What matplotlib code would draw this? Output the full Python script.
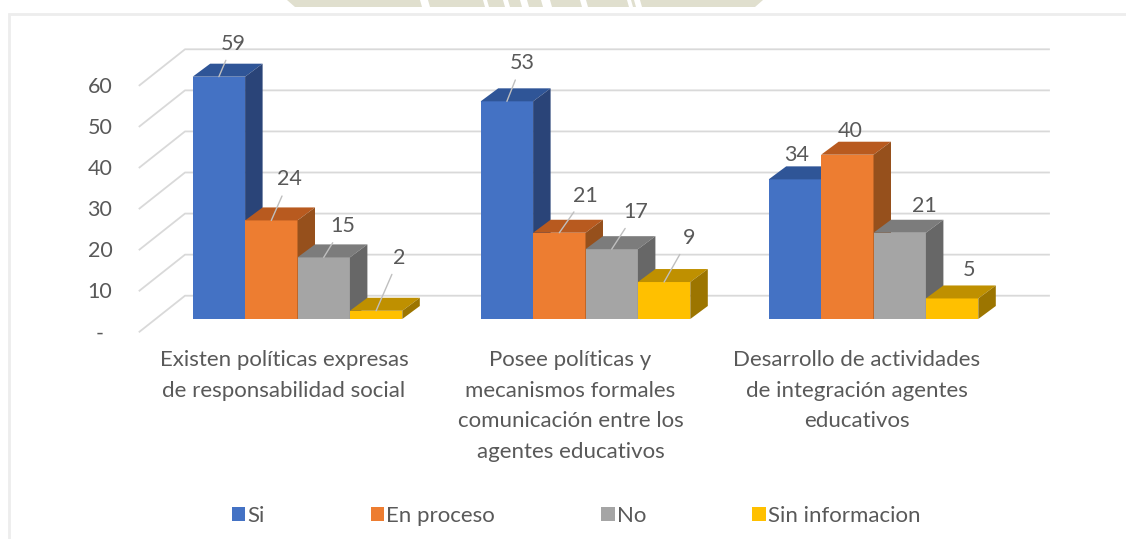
import matplotlib
matplotlib.use('Agg')
import matplotlib.pyplot as plt
from matplotlib.transforms import Affine2D

categories = ['Existen políticas expresas\nde responsabilidad social',
              'Posee políticas y\nmecanismos formales\ncomunicación entre los\nagentes educativos',
              'Desarrollo de actividades\nde integración agentes\neducativos']
series_names = ['Si', 'En proceso', 'No', 'Sin informacion']
si = [59, 53, 34]
en_proceso = [24, 21, 40]
no = [15, 17, 21]
sin_info = [2, 9, 5]
y_ticks = [0, 10, 20, 30, 40, 50, 60]
y_tick_labels = ['-', '10', '20', '30', '40', '50', '60']

front_colors = ['#4472C4', '#ED7D31', '#A5A5A5', '#FFC000']
top_colors = ['#2F5597', '#B85A1F', '#7C7C7C', '#BF9000']
side_colors = ['#2A4478', '#96501C', '#676767', '#9C7500']
text_color = '#595959'

W, H = 1126, 539
GROUP_PX = 288.0
UNIT_PX = 4.107
BAR_W = 52.4 / GROUP_PX
DEPTH_X = 17.5 / GROUP_PX
DEPTH_Y = 13 / UNIT_PX

plt.rcParams['font.family'] = ['Lato', 'DejaVu Sans']

fig = plt.figure(figsize=(W / 100, H / 100), dpi=100)
ax = fig.add_axes([0, 0, 1, 1])
ax.set_xlim(-297.5 / GROUP_PX, (W - 297.5) / GROUP_PX)
ax.set_ylim((319 - H) / UNIT_PX, 319 / UNIT_PX)
ax.axis('off')

# pixel coordinates with the origin at the top left, for text and decoration
px = Affine2D().scale(1, -1).translate(0, H)

# page scraps: watermark at the top edge and the chart border
ax.fill([287, 763, 755, 295], [0, 0, 7, 7], color='#E0DFCE', lw=0, transform=px)
for x0, x1 in [(420, 428), (483, 487), (503, 508), (520, 527), (541, 550), (580, 586), (627, 631), (634, 640)]:
    ax.fill([x0, x1, x1 + 2, x0 + 2], [0, 0, 7, 7], color='white', lw=0, transform=px)
ax.plot([9, 9, W], [H, 13.5, 13.5], color='#EDEDED', lw=2, transform=px, solid_joinstyle='miter')

# back wall and side wall gridlines
wall_front = -3.1
wall_back = 5.67
grid_left = 139.5
grid_mid = 185
grid_right = 1049
for t in y_ticks:
    gx = [(grid_left - 297.5) / GROUP_PX, (grid_mid - 297.5) / GROUP_PX, (grid_right - 297.5) / GROUP_PX]
    gy = [t + wall_front, t + wall_back, t + wall_back]
    ax.plot(gx, gy, color='#D9D9D9', lw=1.3, zorder=1)

series = [si, en_proceso, no, sin_info]
# label offsets from the top of each bar front, in pixels
label_offsets = [
    [(14, 33), (18, 41), (19, 31), (23, 53)],
    [(15, 38), (26, 37), (24, 37), (25, 44)],
    [(2, 24), (2.5, 24), (25, 27), (17, 28)],
]
show_leader = [
    [True, True, True, True],
    [True, True, True, True],
    [False, False, False, False],
]

handles = []
for s, values in enumerate(series):
    offs = [(s - 2 + 0.5) * BAR_W + i for i in range(3)]
    bars = ax.bar(offs, values, width=BAR_W, color=front_colors[s], lw=0, zorder=3 + s * 2)
    handles.append(bars)
    for xc, v in zip(offs, values):
        x0, x1 = xc - BAR_W / 2, xc + BAR_W / 2
        ax.fill([x0, x1, x1 + DEPTH_X, x0 + DEPTH_X], [v, v, v + DEPTH_Y, v + DEPTH_Y],
                color=top_colors[s], lw=0, zorder=3 + s * 2)
        ax.fill([x1, x1 + DEPTH_X, x1 + DEPTH_X, x1], [0, DEPTH_Y, v + DEPTH_Y, v],
                color=side_colors[s], lw=0, zorder=3 + s * 2)

# data labels go on last so the leaders sit over the bars
for s, values in enumerate(series):
    for i, v in enumerate(values):
        xc = (s - 2 + 0.5) * BAR_W + i
        dx, dy = label_offsets[i][s]
        if show_leader[i][s]:
            ax.annotate(str(v), xy=(xc, v), xytext=(dx, dy), textcoords='offset pixels',
                        ha='center', va='center', fontsize=15.5, color=text_color, zorder=20,
                        arrowprops=dict(arrowstyle='-', color='#BFBFBF', lw=1, shrinkA=3, shrinkB=0))
        else:
            ax.annotate(str(v), xy=(xc, v), xytext=(dx, dy), textcoords='offset pixels',
                        ha='center', va='center', fontsize=15.5, color=text_color, zorder=20)

# value axis labels
for t, lab in zip(y_ticks, y_tick_labels):
    y = 319 - (t + wall_front) * UNIT_PX + 1.5
    ax.text(100, y, lab, transform=px, ha='center', va='center', fontsize=15.5, color=text_color)

# category labels
for i, lab in enumerate(categories):
    ax.text(284 + i * 286.5, 350.5, lab, transform=px, ha='center', va='top', fontsize=16,
            color=text_color, linespacing=1.65)

ax.legend(handles, series_names, loc='center', bbox_to_anchor=(576 / W, 1 - 516 / H), ncols=4,
          frameon=False, prop={'size': 16}, labelcolor=text_color, handlelength=0.6, handleheight=0.6,
          handletextpad=0.1, columnspacing=4.78)

fig.savefig('out.png', dpi=100)
